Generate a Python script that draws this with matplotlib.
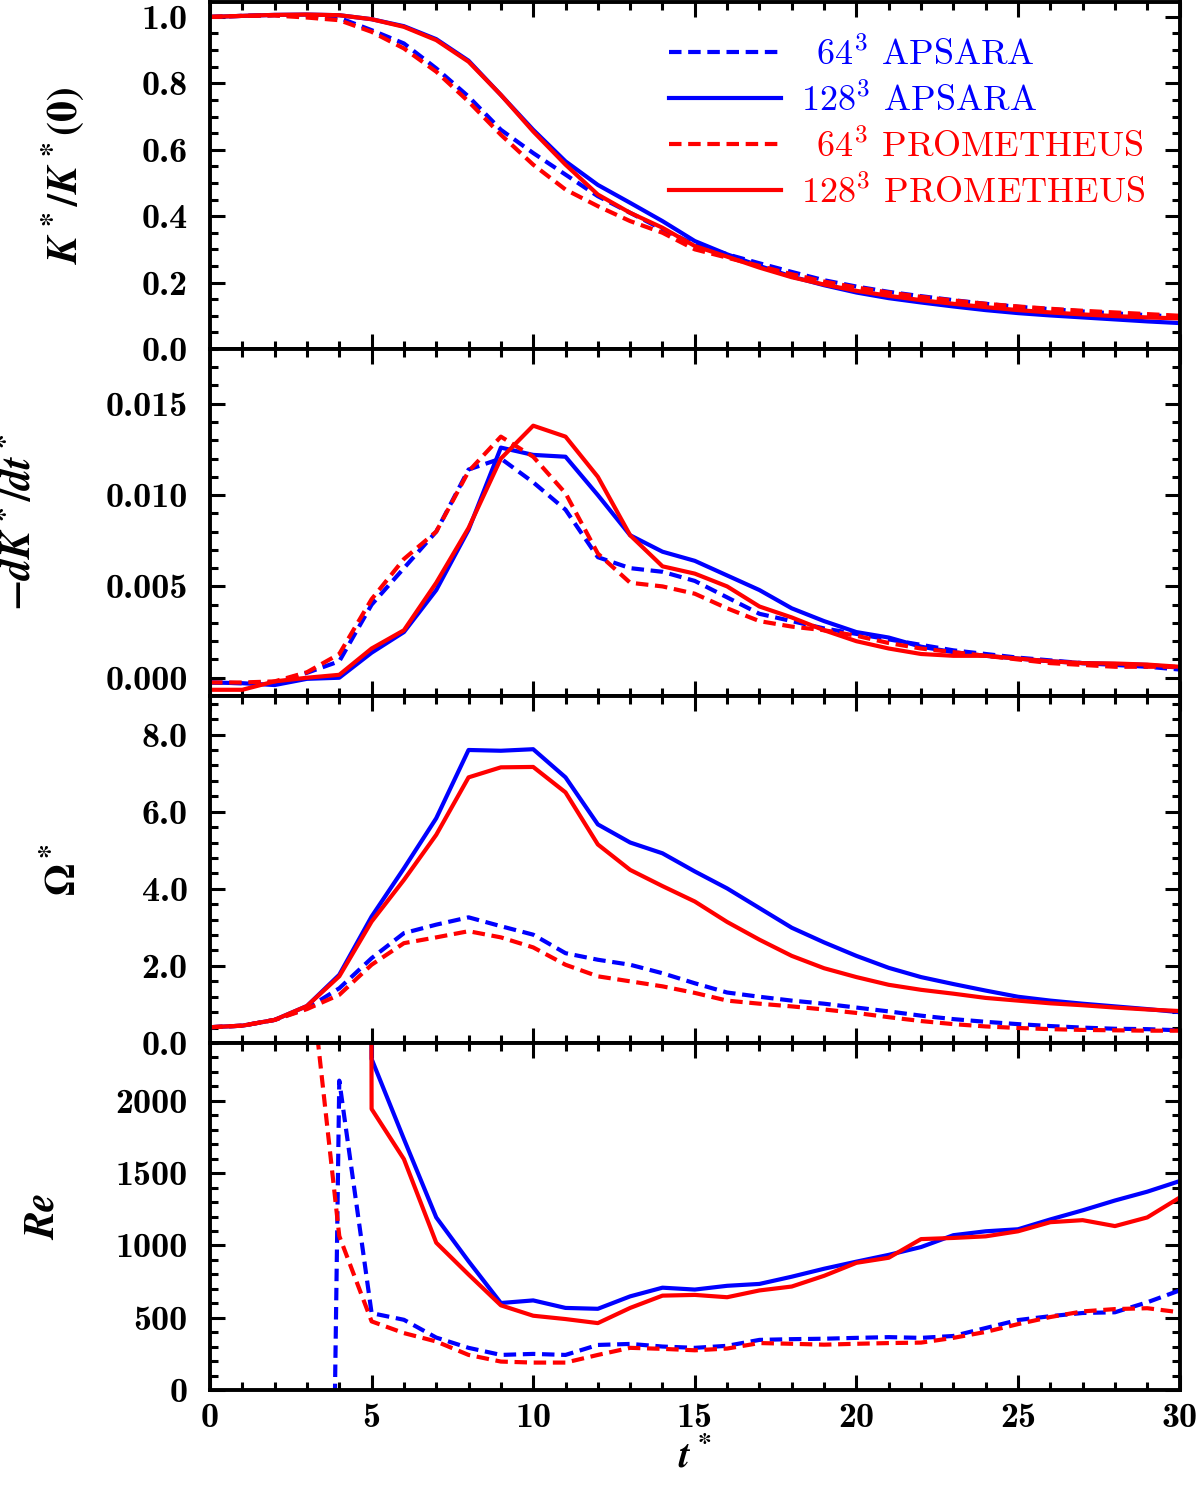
import numpy as np
import matplotlib
matplotlib.use("Agg")
import matplotlib.pyplot as plt
from matplotlib.ticker import MultipleLocator, FormatStrFormatter

# DATA (one value per t* = 0..30)
t_star = list(range(31))
nan = np.nan

k_64_apsara = [1.0, 1.003, 1.005, 1.003, 0.997, 0.96, 0.92, 0.845, 0.76, 0.66, 0.59, 0.525, 0.46, 0.41, 0.36,
               0.315, 0.285, 0.258, 0.232, 0.207, 0.188, 0.172, 0.159, 0.147, 0.136, 0.127, 0.12, 0.113, 0.107, 0.102, 0.097]
k_128_apsara = [1.0, 1.003, 1.006, 1.007, 1.005, 0.993, 0.972, 0.933, 0.868, 0.765, 0.66, 0.565, 0.494, 0.44, 0.385,
                0.325, 0.285, 0.25, 0.218, 0.192, 0.17, 0.153, 0.14, 0.128, 0.117, 0.108, 0.101, 0.095, 0.089, 0.083, 0.078]
k_64_prom = [1.0, 1.003, 1.004, 0.998, 0.99, 0.955, 0.905, 0.835, 0.745, 0.645, 0.555, 0.48, 0.43, 0.385, 0.35,
             0.30, 0.275, 0.25, 0.225, 0.203, 0.185, 0.17, 0.157, 0.146, 0.136, 0.128, 0.121, 0.115, 0.11, 0.105, 0.1]
k_128_prom = [1.0, 1.003, 1.006, 1.007, 1.005, 0.993, 0.97, 0.93, 0.865, 0.765, 0.655, 0.555, 0.465, 0.41, 0.365,
              0.31, 0.278, 0.245, 0.216, 0.194, 0.175, 0.16, 0.147, 0.136, 0.126, 0.117, 0.11, 0.104, 0.099, 0.095, 0.092]

dk_64_apsara = [-0.00026, -0.0003, -0.00025, 0.00027, 0.0009, 0.004, 0.006, 0.008, 0.0114, 0.012, 0.0107, 0.0092,
                0.0066, 0.006, 0.0058, 0.0053, 0.0044, 0.0035, 0.0031, 0.0027, 0.0024, 0.0021, 0.0018, 0.0015,
                0.0013, 0.0011, 0.00095, 0.0008, 0.0007, 0.0006, 0.00045]
dk_128_apsara = [-0.00026, -0.0003, -0.0004, -0.00006, 0.0, 0.00137, 0.0025, 0.0048, 0.0081, 0.0126, 0.0122, 0.0121,
                 0.01, 0.0078, 0.0069, 0.0064, 0.0056, 0.0048, 0.0038, 0.0031, 0.0025, 0.0022, 0.0017, 0.0014,
                 0.0012, 0.00105, 0.0009, 0.0008, 0.00075, 0.0007, 0.00055]
dk_64_prom = [-0.00026, -0.00026, -0.0002, 0.0003, 0.0013, 0.0043, 0.0065, 0.008, 0.0113, 0.0132, 0.0121, 0.0101,
              0.0068, 0.0052, 0.005, 0.0046, 0.0038, 0.0031, 0.0028, 0.0026, 0.0023, 0.0019, 0.0016, 0.0014,
              0.0012, 0.001, 0.0008, 0.0007, 0.0006, 0.0006, 0.0006]
dk_128_prom = [-0.00066, -0.00066, -0.0002, 0.0, 0.00016, 0.0016, 0.0026, 0.0052, 0.0082, 0.012, 0.0138, 0.0132,
               0.011, 0.0078, 0.0061, 0.0057, 0.005, 0.0039, 0.0033, 0.0026, 0.002, 0.0016, 0.0013, 0.0012,
               0.0012, 0.00105, 0.0009, 0.0008, 0.00078, 0.00072, 0.0006]

om_64_apsara = [0.41, 0.45, 0.6, 0.9, 1.42, 2.2, 2.85, 3.07, 3.26, 3.03, 2.81, 2.33, 2.16, 2.03, 1.81, 1.55, 1.31,
                1.2, 1.1, 1.02, 0.92, 0.82, 0.71, 0.62, 0.55, 0.49, 0.44, 0.4, 0.37, 0.36, 0.33]
om_128_apsara = [0.41, 0.45, 0.6, 0.96, 1.77, 3.28, 4.53, 5.83, 7.6, 7.58, 7.62, 6.89, 5.67, 5.2, 4.92, 4.45, 4.01,
                 3.5, 2.99, 2.61, 2.26, 1.95, 1.71, 1.53, 1.36, 1.2, 1.1, 1.02, 0.95, 0.88, 0.8]
om_64_prom = [0.41, 0.45, 0.6, 0.88, 1.25, 2.03, 2.59, 2.74, 2.9, 2.74, 2.48, 2.03, 1.73, 1.6, 1.47, 1.3, 1.1,
              1.02, 0.95, 0.87, 0.78, 0.67, 0.57, 0.49, 0.43, 0.39, 0.36, 0.34, 0.33, 0.32, 0.32]
om_128_prom = [0.41, 0.45, 0.6, 0.96, 1.73, 3.15, 4.23, 5.4, 6.89, 7.15, 7.16, 6.5, 5.15, 4.49, 4.07, 3.67, 3.14,
               2.68, 2.26, 1.94, 1.71, 1.51, 1.38, 1.28, 1.17, 1.1, 1.03, 0.98, 0.92, 0.87, 0.83]

# early Re values are far off the scale (huge or negative)
re_64_apsara = [nan, nan, nan, -14000, 2140, 532, 486, 363, 292, 243, 250, 243, 312, 319, 301, 292, 306, 347,
                352, 355, 361, 366, 361, 374, 429, 484, 511, 533, 538, 607, 689]
re_128_apsara = [nan, nan, nan, nan, 1e5, 2290, 1736, 1194, 891, 602, 620, 568, 562, 648, 708, 695, 721, 734,
                 784, 839, 888, 935, 989, 1071, 1098, 1112, 1180, 1243, 1311, 1372, 1445]
re_64_prom = [nan, nan, nan, 3100, 1065, 475, 394, 336, 243, 197, 190, 190, 243, 292, 285, 275, 287, 325, 320,
              314, 320, 325, 328, 361, 402, 456, 505, 544, 560, 566, 538]
re_128_prom = [nan, nan, nan, nan, 1e5, 1944, 1597, 1019, 799, 586, 514, 491, 463, 568, 653, 658, 642, 689, 716,
               790, 880, 915, 1044, 1052, 1063, 1098, 1161, 1175, 1134, 1194, 1331]

legend_labels = [r"$\enspace64^3$ APSARA", r"$128^3$ APSARA",
                 r"$\enspace64^3$ PROMETHEUS", r"$128^3$ PROMETHEUS"]

# STYLE
plt.rcParams['mathtext.fontset'] = 'custom'
plt.rcParams['mathtext.rm'] = 'STIXGeneral:bold'
plt.rcParams['mathtext.it'] = 'STIXGeneral:italic:bold'
plt.rcParams['mathtext.bf'] = 'STIXGeneral:bold'
plt.rcParams['axes.unicode_minus'] = False

BLUE = '#0000ff'
RED = '#ff0000'
LW = 3.0
DASH = (3.0, 1.6)

fig, axes = plt.subplots(4, 1, figsize=(12, 14.91), dpi=100, sharex=True,
                         gridspec_kw={'hspace': 0})
fig.subplots_adjust(left=0.175, right=0.983, bottom=0.0677, top=0.9987)

panels = [
    (k_64_apsara, k_128_apsara, k_64_prom, k_128_prom),
    (dk_64_apsara, dk_128_apsara, dk_64_prom, dk_128_prom),
    (om_64_apsara, om_128_apsara, om_64_prom, om_128_prom),
    (re_64_apsara, re_128_apsara, re_64_prom, re_128_prom),
]
ylims = [(0, 1.045), (-0.001, 0.018), (0, 9.0), (0, 2400)]
majors = [0.2, 0.005, 2.0, 500]
minors = [0.05, 0.001, 0.4, 100]
fmts = ['%.1f', '%.3f', '%.1f', '%d']
ylabels = [r"$K^*/K^*(0)$", r"$-dK^*/dt^*$", r"$\Omega^*$", r"$Re$"]
label_x = [-0.128, -0.176, -0.13, -0.152]

for i, ax in enumerate(axes):
    d64a, d128a, d64p, d128p = panels[i]
    l1, = ax.plot(t_star, d64a, color=BLUE, lw=LW, dashes=DASH)
    l2, = ax.plot(t_star, d128a, color=BLUE, lw=LW)
    l3, = ax.plot(t_star, d64p, color=RED, lw=LW, dashes=DASH)
    l4, = ax.plot(t_star, d128p, color=RED, lw=LW)

    ax.set_xlim(0, 30)
    ax.set_ylim(*ylims[i])
    ax.yaxis.set_major_locator(MultipleLocator(majors[i]))
    ax.yaxis.set_minor_locator(MultipleLocator(minors[i]))
    ax.yaxis.set_major_formatter(FormatStrFormatter(fmts[i]))
    ax.xaxis.set_major_locator(MultipleLocator(5))
    ax.xaxis.set_minor_locator(MultipleLocator(1))
    ax.tick_params(which='both', direction='in', top=True, right=True, width=2.2)
    ax.tick_params(which='major', length=11, labelsize=26, pad=16)
    ax.tick_params(which='minor', length=6)
    ax.tick_params(axis='x', which='major', pad=9)
    for sp in ax.spines.values():
        sp.set_linewidth(2.8)
    for lab in ax.get_yticklabels() + ax.get_xticklabels():
        lab.set_family('cmb10')

    ax.set_ylabel(ylabels[i], fontsize=30)
    ax.yaxis.set_label_coords(label_x[i], 0.5)

    if i == 0:
        leg = ax.legend([l1, l2, l3, l4], legend_labels, loc='upper right', frameon=False,
                        handlelength=3.1, handletextpad=0.55, labelspacing=0.3,
                        borderaxespad=0.55, prop={'family': 'cmr10', 'size': 26})
        for txt, col in zip(leg.get_texts(), [BLUE, BLUE, RED, RED]):
            txt.set_color(col)
            txt.set_math_fontfamily('cm')

axes[-1].set_xlabel(r"$t^*$", fontsize=28, labelpad=2)

fig.savefig("out.png", dpi=100)
